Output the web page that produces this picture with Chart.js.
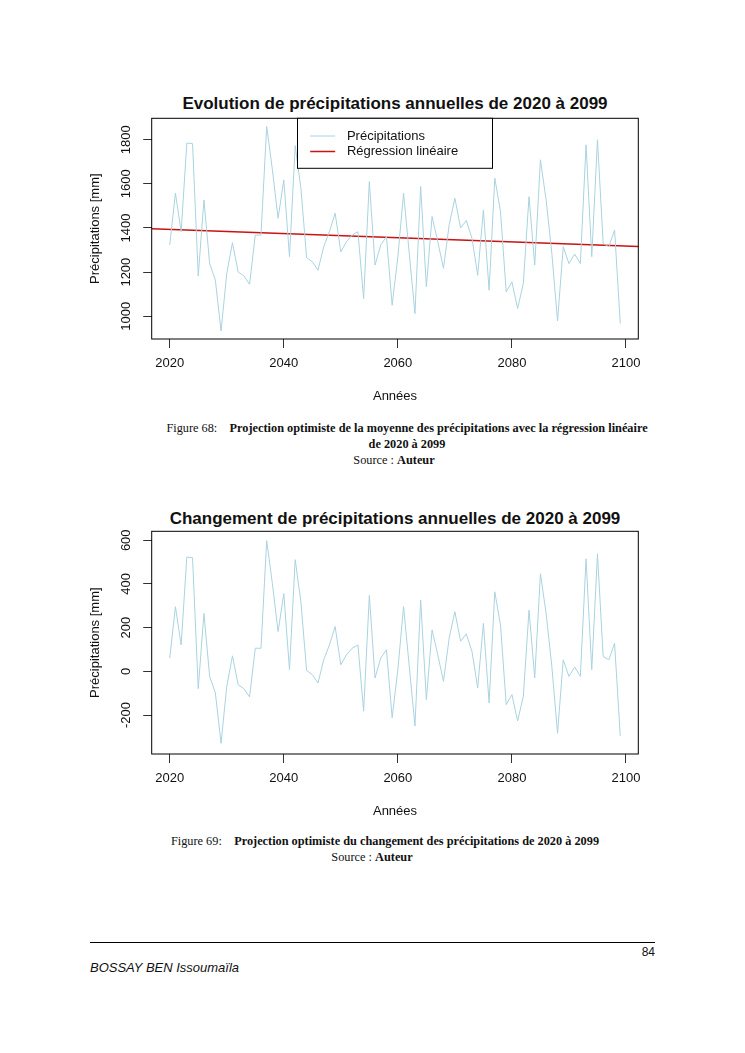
<!DOCTYPE html>
<html lang="fr">
<head>
<meta charset="UTF-8">
<title>Précipitations annuelles 2020 - 2099</title>
<style>
  body { margin: 0; background: #fff; }
  #page { position: relative; width: 745px; height: 1053px; overflow: hidden; font-family: "Liberation Sans", Arial, sans-serif; color: #111; }
  .titre { position: absolute; left: 95px; width: 600px; text-align: center; font-weight: bold; font-size: 17px; line-height: 20px; }
  .graphe { position: absolute; left: 0; width: 745px; }
  .legende { position: absolute; width: 600px; text-align: center; font-family: "Liberation Serif", "Times New Roman", serif; font-size: 12.3px; line-height: 14px; }
  .pied { position: absolute; left: 90px; width: 565px; border-top: 1px solid #000; top: 942px; }
</style>
</head>
<body>
<div id="page">
  <div class="titre" style="top:94px">Evolution de précipitations annuelles de 2020 à 2099</div>
  <div class="graphe" style="top:115px;height:294px"><canvas id="chartMoyenne"></canvas></div>
  <div class="legende" style="left:107px;top:421px">Figure 68:&nbsp;&nbsp;&nbsp;&nbsp;<b>Projection optimiste de la moyenne des précipitations avec la régression linéaire</b></div>
  <div class="legende" style="left:107px;top:437px"><b>de 2020 à 2099</b></div>
  <div class="legende" style="left:94px;top:453px">Source : <b>Auteur</b></div>

  <div class="titre" style="top:509px">Changement de précipitations annuelles de 2020 à 2099</div>
  <div class="graphe" style="top:528px;height:296px"><canvas id="chartChangement"></canvas></div>
  <div class="legende" style="left:85px;top:834px">Figure 69:&nbsp;&nbsp;&nbsp;&nbsp;<b>Projection optimiste du changement des précipitations de 2020 à 2099</b></div>
  <div class="legende" style="left:72px;top:850px">Source : <b>Auteur</b></div>

  <div class="pied"></div>
  <div style="position:absolute;left:600px;width:55px;top:945px;text-align:right;font-size:12px">84</div>
  <div style="position:absolute;left:90px;top:960px;font-size:13px;font-style:italic">BOSSAY BEN Issoumaïla</div>
</div>

<script src="https://cdn.jsdelivr.net/npm/chart.js"></script>
<script>
  // Données
  const annees = [2020, 2021, 2022, 2023, 2024, 2025, 2026, 2027, 2028, 2029,
                  2030, 2031, 2032, 2033, 2034, 2035, 2036, 2037, 2038, 2039,
                  2040, 2041, 2042, 2043, 2044, 2045, 2046, 2047, 2048, 2049,
                  2050, 2051, 2052, 2053, 2054, 2055, 2056, 2057, 2058, 2059,
                  2060, 2061, 2062, 2063, 2064, 2065, 2066, 2067, 2068, 2069,
                  2070, 2071, 2072, 2073, 2074, 2075, 2076, 2077, 2078, 2079,
                  2080, 2081, 2082, 2083, 2084, 2085, 2086, 2087, 2088, 2089,
                  2090, 2091, 2092, 2093, 2094, 2095, 2096, 2097, 2098, 2099];
  const precipitations = [1323, 1558, 1383, 1785, 1782, 1183, 1527, 1239, 1164, 933,
                          1194, 1333, 1201, 1183, 1145, 1368, 1368, 1860, 1664, 1444,
                          1618, 1270, 1773, 1580, 1266, 1247, 1209, 1315, 1383, 1467,
                          1292, 1338, 1368, 1383, 1080, 1610, 1232, 1323, 1361, 1050,
                          1270, 1558, 1285, 1012, 1588, 1133, 1452, 1338, 1217, 1414,
                          1535, 1400, 1434, 1353, 1186, 1482, 1118, 1626, 1474, 1110,
                          1156, 1035, 1148, 1542, 1232, 1709, 1527, 1285, 979, 1315,
                          1239, 1282, 1239, 1777, 1270, 1800, 1330, 1315, 1391, 967];
  const changement = [61, 296, 121, 523, 520, -79, 265, -23, -98, -329,
                      -68, 71, -61, -79, -117, 106, 106, 598, 402, 182,
                      356, 8, 511, 318, 4, -15, -53, 53, 121, 205,
                      30, 76, 106, 121, -182, 348, -30, 61, 99, -212,
                      8, 296, 23, -250, 326, -129, 190, 76, -45, 152,
                      273, 138, 172, 91, -76, 220, -144, 364, 212, -152,
                      -106, -227, -114, 280, -30, 447, 265, 23, -283, 53,
                      -23, 20, -23, 515, 8, 538, 68, 53, 129, -295];
  // droite de régression (extrémités sur les bords du graphique)
  const regressionAnnees = [2016.84, 2102.16];
  const regressionValeurs = [1397, 1316];

  const xBornes = [2016.84, 2102.16];
  const xTicks = [2020, 2040, 2060, 2080, 2100];
  const yBornesMoyenne = [897, 1897];
  const yTicksMoyenne = [1000, 1200, 1400, 1600, 1800];
  const yBornesChangement = [-378, 641];
  const yTicksChangement = [-200, 0, 200, 400, 600];

  const police = '"Liberation Sans", Arial, sans-serif';
  Chart.defaults.font.family = police;
  Chart.defaults.font.size = 13;
  Chart.defaults.color = '#111';

  // cadre, étiquettes verticales de l'axe y et légende façon R
  const styleR = {
    id: 'styleR',
    afterDatasetsDraw(chart, args, opts) {
      const { ctx, chartArea: a } = chart;
      const y = chart.scales.y;
      ctx.save();
      ctx.strokeStyle = '#000';
      ctx.lineWidth = 1;
      ctx.strokeRect(a.left, a.top, a.right - a.left, a.bottom - a.top);

      ctx.fillStyle = '#111';
      ctx.font = '13px ' + police;
      ctx.textAlign = 'center';
      ctx.textBaseline = 'middle';
      y.ticks.forEach(t => {
        ctx.save();
        ctx.translate(a.left - 25, y.getPixelForValue(t.value));
        ctx.rotate(-Math.PI / 2);
        ctx.fillText(String(t.value), 0, 0);
        ctx.restore();
      });

      if (opts.legende) {
        const bx = (a.left + a.right) / 2 - 97.5, by = a.top;
        ctx.fillStyle = '#fff';
        ctx.fillRect(bx, by, 195, 50);
        ctx.strokeRect(bx, by, 195, 50);
        ctx.textAlign = 'left';
        chart.data.datasets.forEach((ds, i) => {
          const ly = by + 17.7 + i * 15.5;
          ctx.strokeStyle = ds.borderColor;
          ctx.lineWidth = ds.borderWidth;
          ctx.beginPath();
          ctx.moveTo(bx + 12.7, ly);
          ctx.lineTo(bx + 37.7, ly);
          ctx.stroke();
          ctx.fillStyle = '#111';
          ctx.fillText(ds.label, bx + 49.4, ly);
        });
      }
      ctx.restore();
    }
  };

  function options(yBornes, yTicks, avecLegende) {
    return {
      responsive: true,
      maintainAspectRatio: false,
      animation: false,
      layout: { padding: { top: 3.3, right: 106.7, left: 0, bottom: 0 } },
      plugins: {
        legend: { display: false },
        tooltip: { enabled: false },
        styleR: { legende: avecLegende }
      },
      scales: {
        x: {
          type: 'linear',
          min: xBornes[0],
          max: xBornes[1],
          afterBuildTicks: s => { s.ticks = xTicks.map(v => ({ value: v })); },
          grid: { drawOnChartArea: false, drawTicks: true, tickLength: 9, color: '#333' },
          border: { display: false },
          ticks: { padding: 8, maxRotation: 0, autoSkip: false, callback: v => String(v) },
          title: { display: true, text: 'Années', padding: { top: 0, bottom: 4.5 } },
          afterFit: s => { s.height = 70; }
        },
        y: {
          min: yBornes[0],
          max: yBornes[1],
          afterBuildTicks: s => { s.ticks = yTicks.map(v => ({ value: v })); },
          grid: { drawOnChartArea: false, drawTicks: true, tickLength: 8.5, color: '#333' },
          border: { display: false },
          ticks: { display: false },
          title: { display: true, text: 'Précipitations [mm]', padding: { top: 87.2, bottom: 0 } },
          afterFit: s => { s.width = 151.7; }
        }
      }
    };
  }

  const points = valeurs => annees.map((a, i) => ({ x: a, y: valeurs[i] }));

  new Chart(document.getElementById('chartMoyenne'), {
    type: 'line',
    data: {
      datasets: [{
        label: 'Précipitations',
        data: points(precipitations),
        borderColor: '#a9d3e0',
        borderWidth: 1,
        pointRadius: 0,
        tension: 0
      }, {
        label: 'Régression linéaire',
        data: regressionAnnees.map((a, i) => ({ x: a, y: regressionValeurs[i] })),
        borderColor: '#cc1111',
        borderWidth: 1.5,
        pointRadius: 0
      }]
    },
    options: options(yBornesMoyenne, yTicksMoyenne, true),
    plugins: [styleR]
  });

  new Chart(document.getElementById('chartChangement'), {
    type: 'line',
    data: {
      datasets: [{
        label: 'Changement',
        data: points(changement),
        borderColor: '#a9d3e0',
        borderWidth: 1,
        pointRadius: 0,
        tension: 0
      }]
    },
    options: options(yBornesChangement, yTicksChangement, false),
    plugins: [styleR]
  });
</script>
</body>
</html>
